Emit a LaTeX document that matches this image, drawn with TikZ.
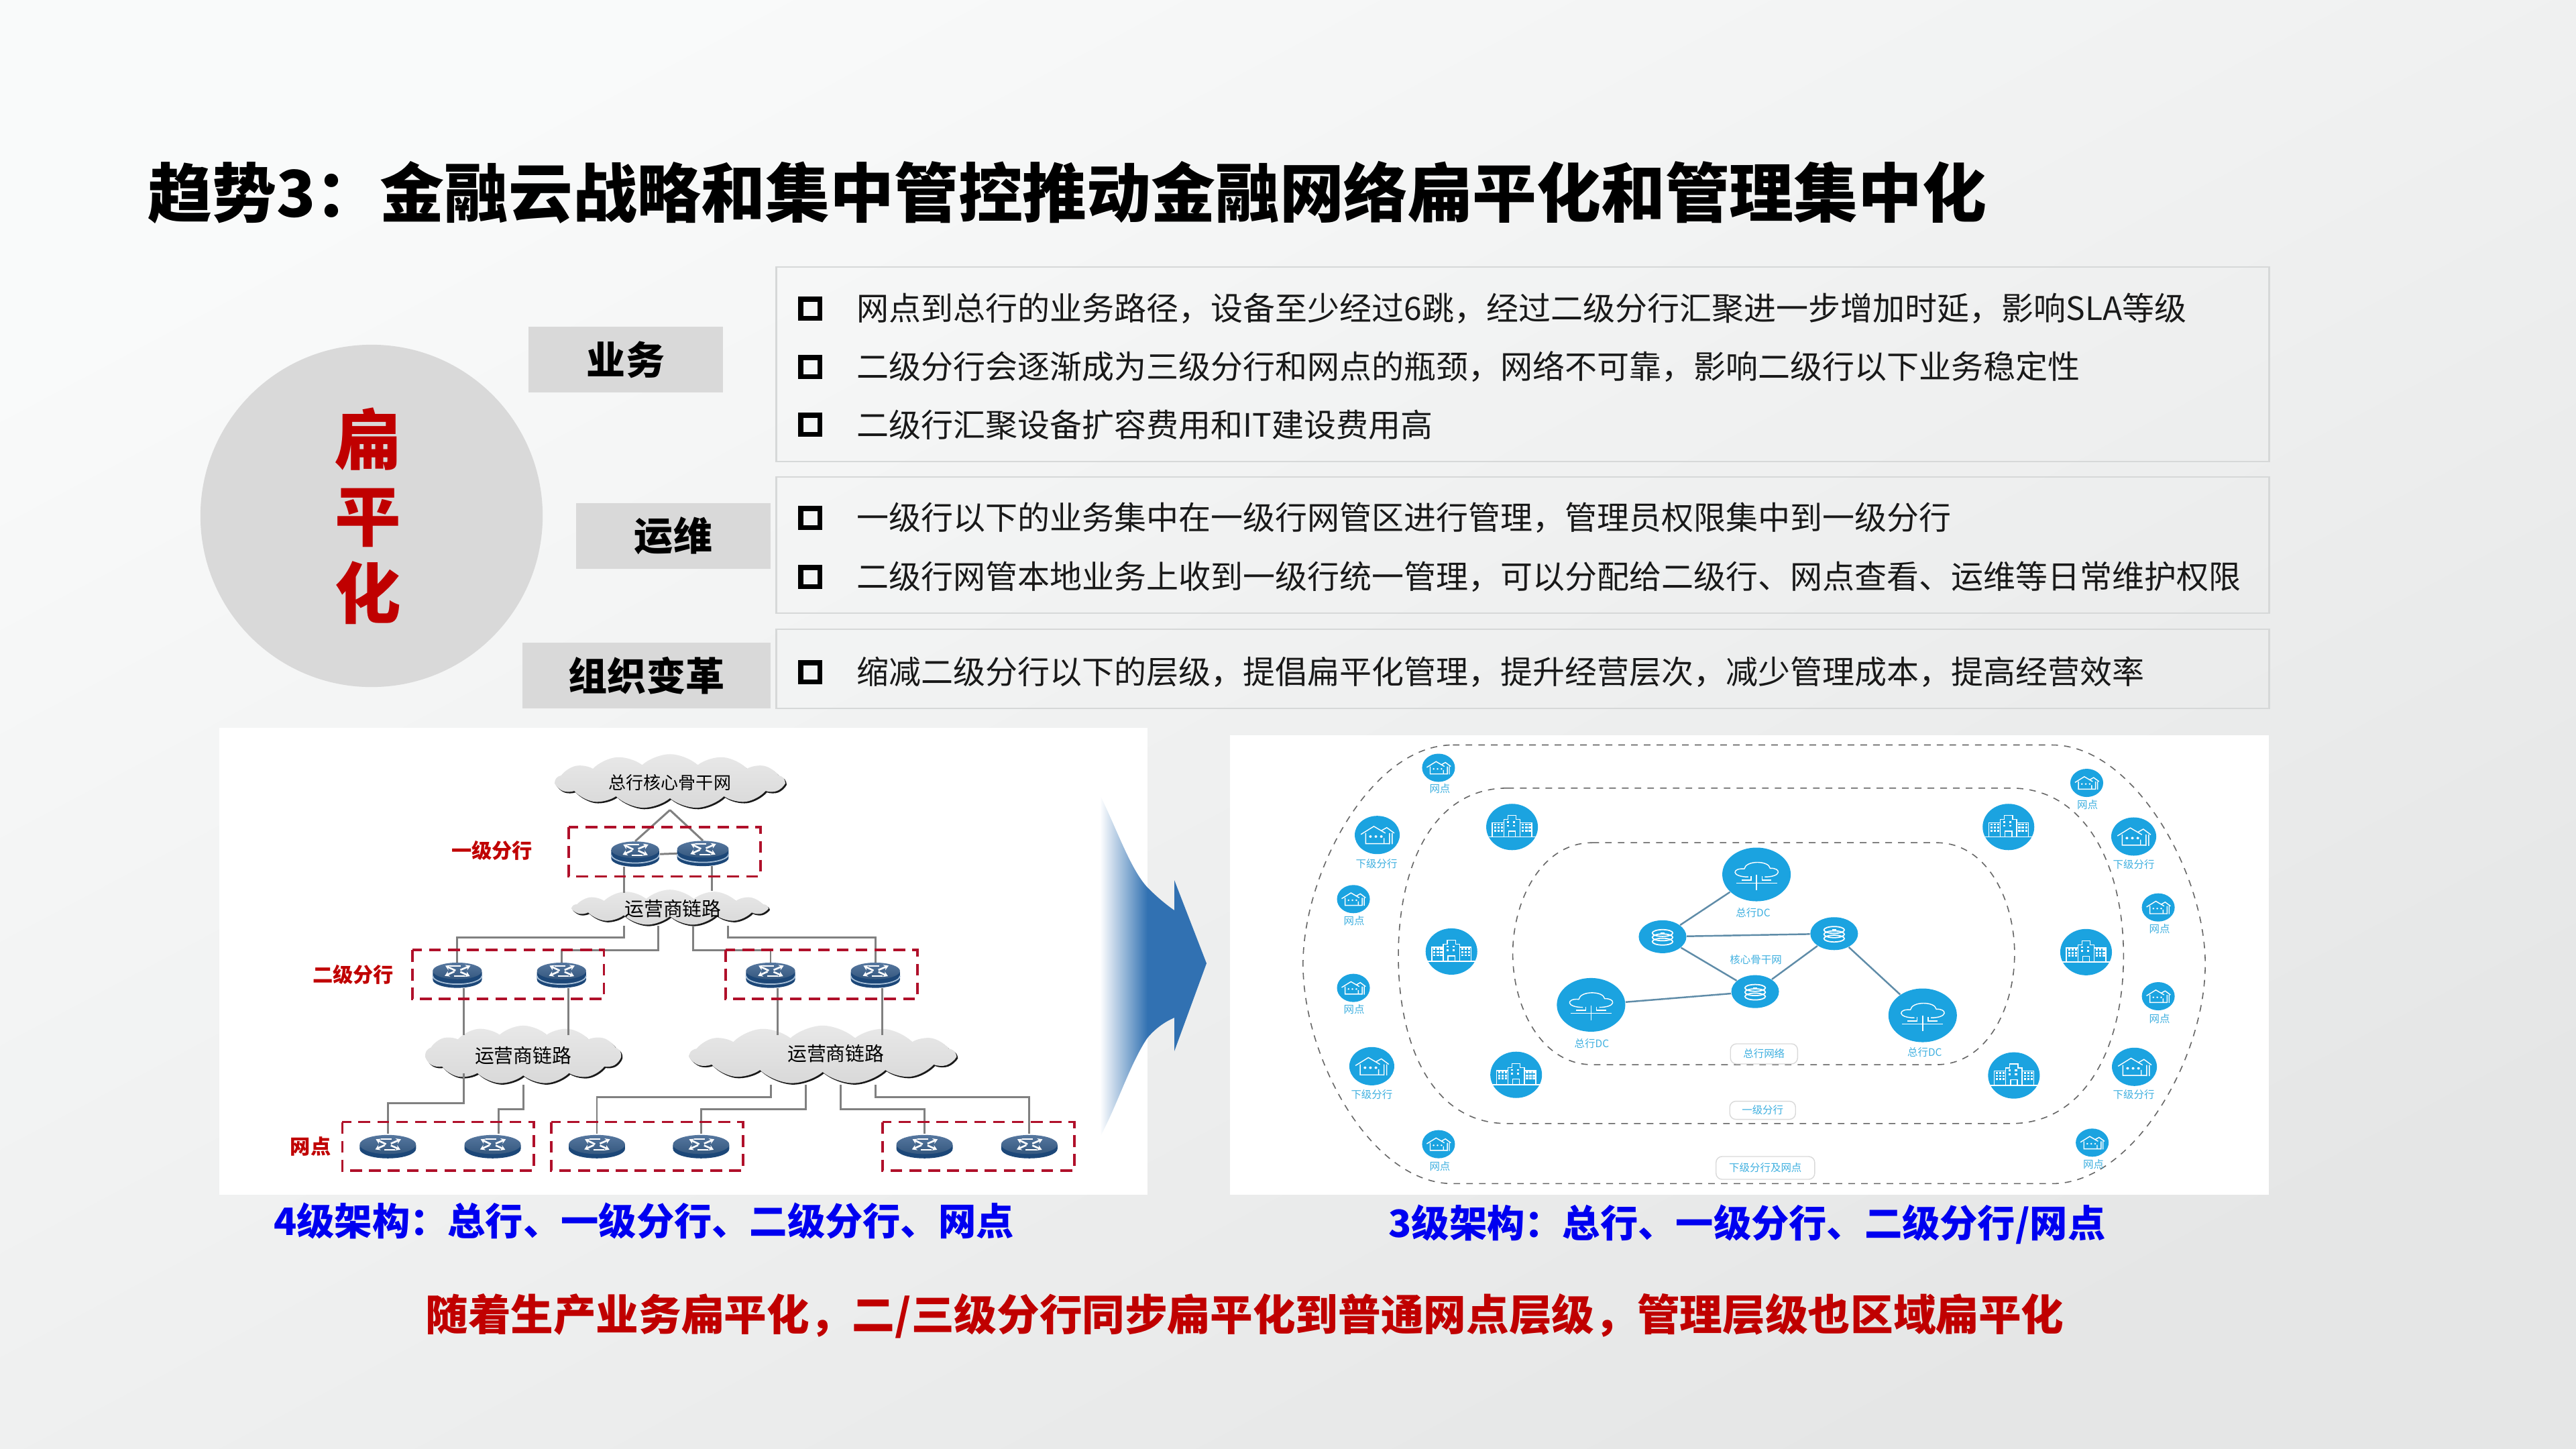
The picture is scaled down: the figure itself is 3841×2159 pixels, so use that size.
\documentclass[tikz,border=0pt]{standalone}
\usepackage{fontspec}
\setmainfont{Noto Sans CJK SC}
\usetikzlibrary{shapes.symbols,shapes.geometric,shadows,arrows.meta}
\definecolor{bgtop}{HTML}{F9FAFA}\definecolor{bgbot}{HTML}{E5E6E6}
\definecolor{panelgray}{HTML}{D9D9D9}\definecolor{frameline}{HTML}{D6D8D8}
\definecolor{redtxt}{HTML}{C00000}\definecolor{dashred}{HTML}{B0102A}\definecolor{capblue}{HTML}{0000F0}
\definecolor{arrowblue}{HTML}{3171B2}\definecolor{arrowmid}{HTML}{B4B8DE}
\definecolor{iconblue}{HTML}{1BA3E0}\definecolor{lblblue}{HTML}{3FB0E0}\definecolor{netlink}{HTML}{5F8CA8}
\definecolor{rdark}{HTML}{1C4778}\definecolor{rtop}{HTML}{56779F}\definecolor{rtopb}{HTML}{35587F}\definecolor{rline}{HTML}{A8C0D8}
\tikzset{
 panel/.style={draw=frameline,line width=.7pt,inner sep=0pt},
 tagbox/.style={fill=panelgray,inner sep=0pt,minimum height=.98cm,font=\fontsize{16.5}{20}\selectfont\bfseries},
 bulletbox/.style={draw=black,line width=2pt,inner sep=0pt,minimum size=.28cm},
 bodytxt/.style={anchor=west,inner sep=0pt,text=black!90,font=\fontsize{13.65}{16}\selectfont},
 link/.style={draw=black!50,line width=.85pt},
 reddash/.style={draw=dashred,line width=1pt,dash pattern=on 5pt off 3pt},
 cloudbox/.style={cloud,cloud ignores aspect,cloud puffs=13,cloud puff arc=85,inner sep=0pt,top color=black!9,middle color=black!4,bottom color=black!15,general shadow={fill=black!90,shadow xshift=.02cm,shadow yshift=-.022cm}},
 cloudtxt/.style={inner sep=0pt,font=\fontsize{8.2}{10}\selectfont},
 redlbl/.style={inner sep=0pt,text=redtxt,font=\fontsize{8.6}{10}\selectfont\bfseries},
 routernode/.style={ellipse,inner sep=0pt,minimum width=.72cm,minimum height=.37cm},
 flatnode/.style={ellipse,inner sep=0pt,minimum width=.84cm,minimum height=.36cm},
 dcnode/.style={ellipse,fill=iconblue,inner sep=0pt,minimum width=1.02cm,minimum height=.80cm},
 corenode/.style={ellipse,fill=iconblue,inner sep=0pt,minimum width=.71cm,minimum height=.49cm},
 bldnode/.style={ellipse,fill=iconblue,inner sep=0pt,minimum width=.77cm,minimum height=.69cm},
 bignode/.style={ellipse,fill=iconblue,inner sep=0pt,minimum width=.67cm,minimum height=.57cm},
 smallnode/.style={ellipse,fill=iconblue,inner sep=0pt,minimum width=.49cm,minimum height=.42cm},
 netlbl/.style={inner sep=0pt,text=lblblue,font=\fontsize{4.4}{5}\selectfont},
 zone/.style={draw=black!60,line width=.45pt,dash pattern=on 2.8pt off 2.6pt},
 pill/.style={draw=black!15,fill=white,rounded corners=.09cm,inner sep=0pt,line width=.4pt,text=lblblue,font=\fontsize{4.4}{5}\selectfont},
 netline/.style={draw=netlink,line width=.7pt},
 iconline/.style={draw=white,line width=.4pt},
 glyphline/.style={draw=white,line width=.75pt,-{Stealth[length=2pt,width=2.4pt]}},
 glyph/.pic={
  \draw[glyphline] (-3,-1) -- (-20,-17);
  \draw[glyphline] (5,-3) -- (22,-17);
  \draw[glyphline] (-5,2) -- (-21,16);
  \draw[glyphline] (5,3) -- (21,17);
  \draw[draw=white,line width=.6pt] (-12,-17) -- (6,-17) (-6,17) -- (12,17);
 },
 stackrouter/.pic={
  \fill[rdark] (-#1,-11) -- (-#1,14) arc[start angle=180,end angle=0,x radius=#1,y radius=27] -- (#1,-11) -- cycle;
  \draw[rline,line width=.5pt] (-#1,2) arc[start angle=180,end angle=0,x radius=#1,y radius=27];
  \shade[top color=rtop,bottom color=rtopb] (0,-14) ellipse[x radius=#1,y radius=27];
  \pic at (0,-14) {glyph};
 },
 flatrouter/.pic={
  \fill[rdark] (-#1,-4) -- (-#1,8) arc[start angle=180,end angle=0,x radius=#1,y radius=31] -- (#1,-4) -- cycle;
  \shade[top color=rtop,bottom color=rtopb] (0,-6) ellipse[x radius=#1,y radius=31];
  \pic at (0,-6) {glyph};
 },
 cloudicon/.pic={
  \draw[iconline] (-12,8) .. controls (-38,8) and (-36,-22) .. (-18,-18) .. controls (-16,-46) and (18,-46) .. (20,-20) .. controls (36,-22) and (38,8) .. (12,8);
  \draw[iconline] (-30,28) -- (30,28) (0,2) -- (0,50) (-8,6) -- (-8,18) -- (-22,18) (8,6) -- (8,18) -- (22,18);
 },
 dbicon/.pic={
  \foreach \q in {-12,2,16}{\draw[iconline,line width=.5pt] (0,\q) ellipse[x radius=15,y radius=11];}
  \fill[white] (-3,-14) rectangle (3,-10);
 },
 bldicon/.pic={
  \draw[iconline] (-12,30) -- (-12,-24) -- (-6,-24) -- (-6,-37) -- (6,-37) -- (6,-24) -- (12,-24) -- (12,30);
  \draw[iconline] (-12,-14) -- (-29,-14) -- (-29,30) (12,-14) -- (29,-14) -- (29,30) (-36,32) -- (36,32);
  \draw[iconline] (-5,32) -- (-5,14) -- (5,14) -- (5,32);
  \foreach \u in {-25,-20,-15,16,21,26}{\foreach \v in {-8,2,12}{\fill[white] (\u-1.6,\v-3) rectangle (\u+1.6,\v+3);}}
  \foreach \u in {-6,3}{\foreach \v in {-16,-4}{\fill[white] (\u-1.6,\v-3) rectangle (\u+1.6,\v+3);}}
 },
 houseicon/.pic={
  \draw[iconline] (-24,-2) -- (-5,-28) -- (12,-6) (-17,-6) -- (-17,28) -- (18,28);
  \draw[iconline] (6,-14) -- (14,-24) -- (25,-6) (18,-6) -- (18,30) (22,-6) -- (22,30) (10,10) -- (10,28);
  \foreach \u in {-10,-2,6}{\fill[white] (\u,5) ellipse[x radius=2,y radius=4];}
 },
 x=.01cm,y=-.01cm
}
\newcommand{\bodyline}[3]{%
 \node[bulletbox] (b#1) at (1208,#2) {};
 \node[bodytxt] (t#1) at (1277,#2) {#3};}
\begin{document}
\begin{tikzpicture}[x=.01cm,y=-.01cm]
\useasboundingbox (0,0) rectangle (3841,2159);
\shade[top color=bgtop,bottom color=bgbot,shading angle=28] (0,0) rectangle (3841,2159);
\node[anchor=west,inner sep=0pt,font=\fontsize{27.25}{32}\selectfont\bfseries] (title) at (220,287) {趋势3：金融云战略和集中管控推动金融网络扁平化和管理集中化};
% left cluster
\node[circle,fill=panelgray,inner sep=0pt,minimum size=5.1cm] (flat) at (554,769) {};
\node[inner sep=0pt,align=center,text=redtxt,font=\fontsize{28}{32.5}\selectfont\bfseries] (flattxt) at (549,769) {扁\\平\\化};
\node[tagbox,minimum width=2.89cm] (tag1) at (933,536) {业务};
\node[tagbox,minimum width=2.89cm] (tag2) at (1004,799) {运维};
\node[tagbox,minimum width=3.70cm] (tag3) at (964,1007) {组织变革};
% text frames
\node[panel,minimum width=22.25cm,minimum height=2.90cm] (frame1) at (2270.5,543) {};
\node[panel,minimum width=22.25cm,minimum height=2.03cm] (frame2) at (2270.5,812.5) {};
\node[panel,minimum width=22.25cm,minimum height=1.18cm] (frame3) at (2270.5,997) {};
\bodyline{a}{460}{网点到总行的业务路径，设备至少经过6跳，经过二级分行汇聚进一步增加时延，影响SLA等级}
\bodyline{b}{547}{二级分行会逐渐成为三级分行和网点的瓶颈，网络不可靠，影响二级行以下业务稳定性}
\bodyline{c}{633}{二级行汇聚设备扩容费用和IT建设费用高}
\bodyline{d}{772}{一级行以下的业务集中在一级行网管区进行管理，管理员权限集中到一级分行}
\bodyline{e}{860}{二级行网管本地业务上收到一级行统一管理，可以分配给二级行、网点查看、运维等日常维护权限}
\bodyline{f}{1002}{缩减二级分行以下的层级，提倡扁平化管理，提升经营层次，减少管理成本，提高经营效率}
% image panels
\fill[white] (327,1085) rectangle (1711,1781);
\fill[white] (1834,1096) rectangle (3383,1781);
% arrow between panels
\shade[left color=white,middle color=arrowmid,right color=arrowblue] (1640,1185) .. controls (1665,1235) and (1685,1295) .. (1711,1323) -- (1711,1547) .. controls (1685,1585) and (1665,1650) .. (1640,1695) -- cycle;
\fill[arrowblue] (1711,1323) .. controls (1725,1337) and (1738,1348) .. (1751,1357) -- (1751,1312) -- (1799,1436) -- (1751,1567) -- (1751,1517) .. controls (1735,1524) and (1722,1534) .. (1711,1547) -- cycle;
% 4-level network, coordinates stretched to match the zoom measurements
\begin{scope}[x=.0089286cm,y=-.0045918cm,shift={(3.2cm,-10.8cm)}]
 \node[cloudbox,minimum width=3.41cm,minimum height=.81cm] (c1) at (760,183) {};
 \node[cloudbox,minimum width=2.90cm,minimum height=.53cm] (c2) at (760,592) {};
 \node[cloudbox,minimum width=2.91cm,minimum height=.87cm] (c3) at (515,1070) {};
 \node[cloudbox,minimum width=3.95cm,minimum height=.87cm] (c4) at (1015,1070) {};
 \node[cloudtxt,font=\fontsize{7.4}{9}\selectfont] (ct1) at (760,187) {总行核心骨干网};
 \node[cloudtxt] (ct2) at (765,597) {运营商链路};
 \node[cloudtxt] (ct3) at (515,1072) {运营商链路};
 \node[cloudtxt] (ct4) at (1037,1067) {运营商链路};
 % connector ports on the cloud outlines
 \coordinate (c1p) at (760,276);
 \coordinate (c2a) at (683,652);
 \coordinate (c2b) at (741,652);
 \coordinate (c2c) at (799,652);
 \coordinate (c2d) at (857,652);
 \coordinate (c3a) at (416,1130);
 \coordinate (c3b) at (515,1168);
 \coordinate (c4a) at (929,1168);
 \coordinate (c4b) at (987,1168);
 \coordinate (c4c) at (1045,1168);
 \coordinate (c4d) at (1103,1168);
 \foreach \n/\u/\v in {r11/702/419,r12/815/417,r21/405/812,r22/579/812,r23/928/812,r24/1103/812}{\node[routernode] (\n) at (\u,\v) {};}
 \foreach \n/\u in {r31/289,r32/464,r33/638,r34/812,r35/1185,r36/1360}{\node[flatnode] (\n) at (\u,1367) {};}
 % connectors
 \draw[link] (c1p) -- (r11.north);
 \draw[link] (c1p) -- (r12.north);
 \draw[link] (r11.east) -- (r12.west);
 \draw[link] ([xshift=-.17cm]r11.south) -- ++(0,85);
 \draw[link] ([xshift=.13cm]r12.south) -- ++(0,80);
 \draw[link] (c2a) -- ++(0,38) -| (r21.north);
 \draw[link] (c2b) -- ++(0,78) -| (r22.north);
 \draw[link] (c2c) -- ++(0,78) -| (r23.north);
 \draw[link] (c2d) -- ++(0,38) -| (r24.north);
 \foreach \n in {r21,r22,r23,r24}{\draw[link] ([xshift=.1cm]\n.south) -- ++(0,153);}
 \draw[link] (c3a) -- ++(0,97) -| (r31.north);
 \draw[link] (c3b) -- ++(0,79) -| ([xshift=.09cm]r32.north);
 \draw[link] (c4a) -- ++(0,39) -| (r33.north);
 \draw[link] (c4b) -- ++(0,79) -| (r34.north);
 \draw[link] (c4c) -- ++(0,79) -| (r35.north);
 \draw[link] (c4d) -- ++(0,39) -| (r36.north);
 % routers
 \pic at (r11) {stackrouter=40};
 \pic at (r12) {stackrouter=43};
 \foreach \n in {r21,r22,r23,r24}{\pic at (\n) {stackrouter=41};}
 \foreach \n in {r31,r32,r33,r34,r35,r36}{\pic at (\n) {flatrouter=47};}
 % red groups
 \draw[reddash] (591,332) rectangle (911,491);
 \draw[reddash] (330,730) rectangle (650,889);
 \draw[reddash] (853,730) rectangle (1173,889);
 \draw[reddash] (213,1288) rectangle (533,1446);
 \draw[reddash] (562,1288) rectangle (882,1446);
 \draw[reddash] (1115,1288) rectangle (1435,1446);
 \node[redlbl] (l1) at (463,407) {一级分行};
 \node[redlbl] (l2) at (231,809) {二级分行};
 \node[redlbl] (l3) at (160,1367) {网点};
\end{scope}
% 3-level network
\begin{scope}[x=.01014cm,y=-.0045918cm,shift={(18.2cm,-10.8cm)}]
 \draw[zone] (340,65) -- (1220,65) .. controls (1340,65) and (1445,480) .. (1445,776) .. controls (1445,1080) and (1340,1488) .. (1220,1488) -- (340,1488) .. controls (220,1488) and (120,1080) .. (120,776) .. controls (120,480) and (220,65) .. (340,65) -- cycle;
 \draw[zone] (420,205) -- (1160,205) .. controls (1270,205) and (1325,460) .. (1325,749) .. controls (1325,1040) and (1270,1293) .. (1160,1293) -- (420,1293) .. controls (310,1293) and (260,1040) .. (260,749) .. controls (260,460) and (310,205) .. (420,205) -- cycle;
 \draw[zone] (545,382) -- (1050,382) .. controls (1125,382) and (1165,570) .. (1165,742) .. controls (1165,915) and (1125,1102) .. (1050,1102) -- (545,1102) .. controls (470,1102) and (428,915) .. (428,742) .. controls (428,570) and (470,382) .. (545,382) -- cycle;
 \node[dcnode] (dc1) at (786,485) {};
 \node[dcnode] (dc2) at (543,908) {};
 \node[dcnode] (dc3) at (1030,942) {};
 \node[corenode] (core1) at (648,687) {};
 \node[corenode] (core2) at (900,677) {};
 \node[corenode] (core3) at (784,865) {};
 \draw[netline] (dc1) -- (core1);
 \draw[netline] (core1) -- (core2);
 \draw[netline] (core1) -- (core3);
 \draw[netline] (core2) -- (core3);
 \draw[netline] (dc2) -- (core3);
 \draw[netline] (core2) -- (dc3);
 \foreach \n in {dc1,dc2,dc3}{\pic at (\n) {cloudicon};}
 \foreach \n in {core1,core2,core3}{\pic at (\n) {dbicon};}
 \foreach \n/\u/\v in {b1/427/331,b2/1156/331,b3/338/735,b4/1270/737,b5/433/1135,b6/1164/1137}{
  \node[bldnode] (\n) at (\u,\v) {};
  \pic at (\n) {bldicon};}
 \foreach \n/\u/\v/\p/\q in {hb1/229/357/228/450,hb2/1340/362/1340/453,hb3/221/1107/221/1200,hb4/1341/1109/1340/1200}{
  \node[bignode] (\n) at (\u,\v) {};
  \pic at (\n) {houseicon};
  \node[netlbl] (\n t) at (\p,\q) {下级分行};}
 \foreach \n/\u/\v/\p/\q in {hs1/319/139/321/207,hs2/1271/188/1272/259,hs3/194/565/195/636,hs4/1376/592/1378/661,hs5/194/853/195/923,hs6/1376/880/1378/952,hs7/319/1360/321/1431,hs8/1279/1355/1281/1425}{
  \node[smallnode] (\n) at (\u,\v) {};
  \pic[scale=.72] at (\n) {houseicon};
  \node[netlbl] (\n t) at (\p,\q) {网点};}
 \node[netlbl] (dc1t) at (781,610) {总行DC};
 \node[netlbl] (dc2t) at (544,1033) {总行DC};
 \node[netlbl] (dc3t) at (1033,1062) {总行DC};
 \node[netlbl] (coret) at (785,761) {核心骨干网};
 \node[pill,minimum width=1cm,minimum height=.3cm] (pa) at (797,1067) {总行网络};
 \node[pill,minimum width=.98cm,minimum height=.27cm] (pb) at (795,1250) {一级分行};
 \node[pill,minimum width=1.47cm,minimum height=.34cm] (pc) at (799,1437) {下级分行及网点};
\end{scope}
% captions
\node[inner sep=0pt,text=capblue,font=\fontsize{16}{19}\selectfont\bfseries] (cap1) at (960,1820) {4级架构：总行、一级分行、二级分行、网点};
\node[inner sep=0pt,text=capblue,font=\fontsize{16}{19}\selectfont\bfseries] (cap2) at (2605,1825) {3级架构：总行、一级分行、二级分行/网点};
\node[inner sep=0pt,text=redtxt,font=\fontsize{18.1}{22}\selectfont\bfseries] (cap3) at (1856,1962) {随着生产业务扁平化，二/三级分行同步扁平化到普通网点层级，管理层级也区域扁平化};
\end{tikzpicture}
\end{document}
